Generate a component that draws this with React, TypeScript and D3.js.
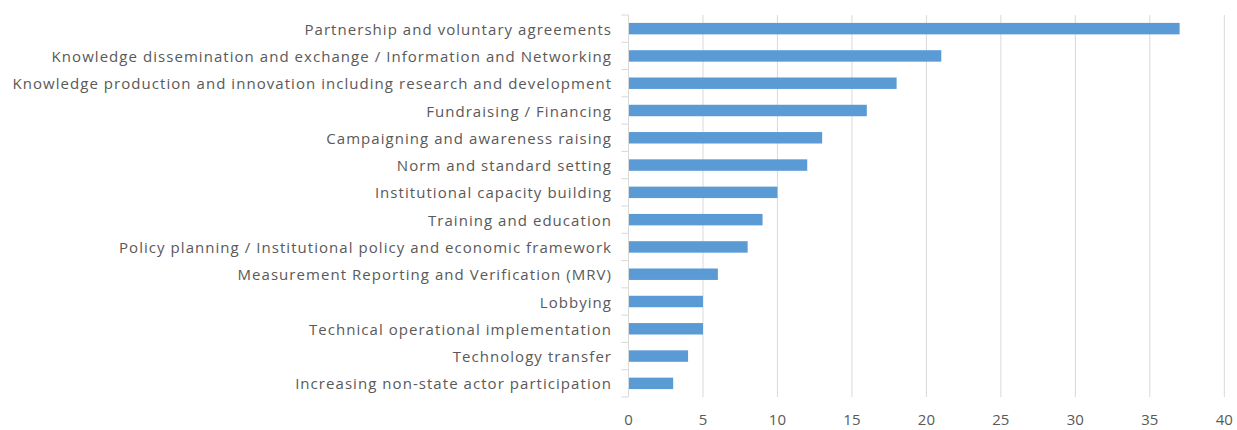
import React from "react";
import * as d3 from "d3";

const categories = [
  "Partnership and voluntary agreements",
  "Knowledge dissemination and exchange / Information and Networking",
  "Knowledge production and innovation including research and development",
  "Fundraising / Financing",
  "Campaigning and awareness raising",
  "Norm and standard setting",
  "Institutional capacity building",
  "Training and education",
  "Policy planning / Institutional policy and economic framework",
  "Measurement Reporting and Verification (MRV)",
  "Lobbying",
  "Technical operational implementation",
  "Technology transfer",
  "Increasing non-state actor participation",
];
const values = [37, 21, 18, 16, 13, 12, 10, 9, 8, 6, 5, 5, 4, 3];
const xTicks = [0, 5, 10, 15, 20, 25, 30, 35, 40];

const W = 1237;
const H = 430;
const left = 628.5;
const right = 1224.3;
const top = 15;
const bottom = 397;
const font = "'Open Sans', sans-serif";
const textColor = "#595959";
const gridColor = "#d9d9d9";
const labelSpacing = 1.05;

export default function App() {
  const x = d3.scaleLinear().domain([0, 40]).range([left, right]);
  const y = d3
    .scaleBand<string>()
    .domain(categories)
    .range([top, bottom])
    .paddingInner(0.58)
    .paddingOuter(0.29);
  const step = y.step();
  const boundaries = d3.range(categories.length + 1).map((i) => top + i * step);

  return (
    <svg
      width={W}
      height={H}
      style={{ position: "absolute", left: 0, top: 0, background: "#fff" }}
    >
      {xTicks.slice(1).map((t) => (
        <line key={"g" + t} x1={x(t)} x2={x(t)} y1={top} y2={bottom} stroke={gridColor} strokeWidth={1} />
      ))}
      {categories.map((c, i) => (
        <rect
          key={c}
          x={x(0)}
          y={y(c)}
          width={x(values[i]) - x(0)}
          height={y.bandwidth()}
          fill="#5b9bd5"
        />
      ))}
      <line x1={left} x2={left} y1={top} y2={bottom} stroke={gridColor} strokeWidth={1} />
      {boundaries.map((b, i) => (
        <line key={"t" + i} x1={left - 7} x2={left} y1={b} y2={b} stroke={gridColor} strokeWidth={1} />
      ))}
      {categories.map((c) => (
        <text
          key={"l" + c}
          x={611 + labelSpacing}
          y={(y(c) as number) + y.bandwidth() / 2}
          textAnchor="end"
          dominantBaseline="central"
          fontFamily={font}
          fontSize={15}
          letterSpacing={labelSpacing}
          fill={textColor}
        >
          {c}
        </text>
      ))}
      {xTicks.map((t) => (
        <text
          key={"x" + t}
          x={x(t)}
          y={419}
          textAnchor="middle"
          dominantBaseline="central"
          fontFamily={font}
          fontSize={15}
          fill={textColor}
        >
          {t}
        </text>
      ))}
    </svg>
  );
}
